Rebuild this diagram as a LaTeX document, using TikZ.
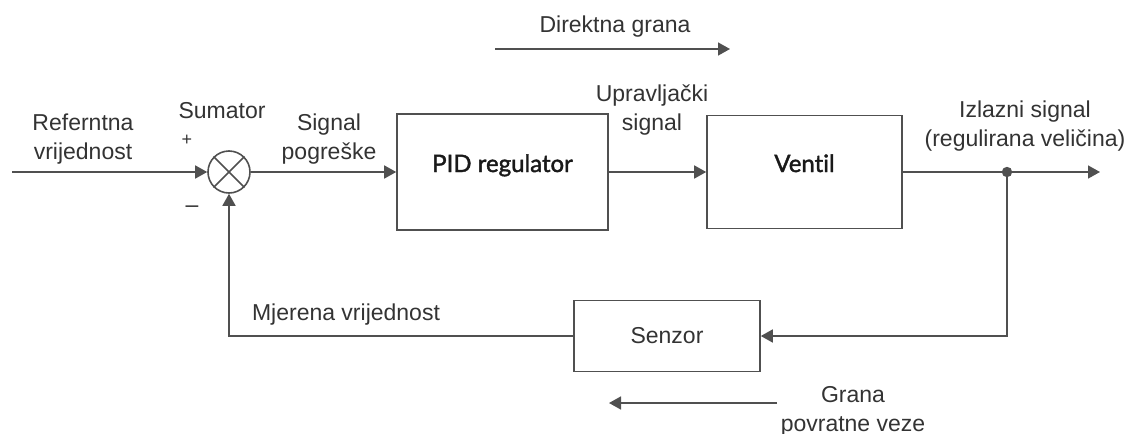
\documentclass[tikz,border=0pt]{standalone}
\usepackage{fontspec}
\setmainfont{Liberation Sans}
\newfontfamily\blockfont{Lato}[Ligatures={NoCommon,NoRare}, FakeBold=1.6]
\usetikzlibrary{positioning}
\usetikzlibrary{arrows.meta}
\usetikzlibrary{calc}

\definecolor{linegray}{HTML}{505050}
\definecolor{textgray}{HTML}{333333}

\tikzset{
  arr/.style={-{Triangle[length=6pt,width=6.5pt]}},
  block/.style={draw=linegray, line width=0.8pt, rectangle, inner sep=0pt},
  sumnode/.style={draw=linegray, line width=0.8pt, circle, minimum size=21pt, inner sep=0pt},
  lbl/.style={text=textgray, align=center, font=\fontsize{11.5}{14.5}\selectfont, inner sep=0pt},
  bigtext/.style={font=\blockfont\fontsize{12}{14}\selectfont, text=black!90, text height=2ex, text depth=2ex}
}

\begin{document}
\begin{tikzpicture}[x=0.5pt, y=-0.5pt, line width=0.8pt, draw=linegray, color=linegray]
        \useasboundingbox (0,0) rectangle (1136,434);

        % Define the coordinates of the points
        \coordinate (ref) at (12,172);
        \coordinate (branch) at (1007,172);
        \coordinate (out) at (1100,172);
        \coordinate (dstart) at (495,49);
        \coordinate (dend) at (730,49);
        \coordinate (fstart) at (777,403);
        \coordinate (fend) at (609,403);

        % Blocks
        \node[sumnode] (sum) at (229,172) {};
        \draw (sum.north west) -- (sum.south east);
        \draw (sum.north east) -- (sum.south west);
        \node[block, bigtext, minimum width=105.5pt, minimum height=58pt] (pid) at (502.5,172) {PID regulator};
        \node[block, bigtext, minimum width=97.5pt, minimum height=56.5pt] (ventil) at (804.5,172) {Vent\kern0pt{}il};
        \node[block, lbl, minimum width=93pt, minimum height=35.5pt] (senzor) at (667,336) {Senzor};

        % Draw the lines
        \draw[arr] (ref) -- (sum.west);
        \draw[arr] (sum.east) -- (pid.west);
        \draw[arr] (pid.east) -- (ventil.west);
        \draw (ventil.east) -- (branch);
        \draw[arr] (branch) -- (out);
        \draw[arr] (branch) |- (senzor.east);
        \draw[arr] (senzor.west) -| (sum.south);
        \fill (branch) circle (2.6pt);

        \draw[arr] (dstart) -- (dend);
        \draw[arr] (fstart) -- (fend);

        % Labels
        \node[lbl] (reflbl) at (83,139) {Referntna\\vrijednost};
        \node[lbl] (sumlbl) at (222,111) {Sumator};
        \node[lbl, font=\fontsize{9}{10}\selectfont] (plus) at (187,140) {+};
        \node[lbl] (minus) at (192,209) {–};
        \node[lbl] (errlbl) at (329,139) {Signal\\pogreške};
        \node[lbl] (ctrllbl) at (652,110) {Upravljački\\signal};
        \node[lbl] (outlbl) at (1025,126) {Izlazni signal\\(regulirana veličina)};
        \node[lbl] (measlbl) at (346,315) {Mjerena vrijednost};
        \node[lbl] (fwdlbl) at (615,27) {Direktna grana};
        \node[lbl] (fblbl) at (853,411) {Grana\\povratne veze};
\end{tikzpicture}
\end{document}
